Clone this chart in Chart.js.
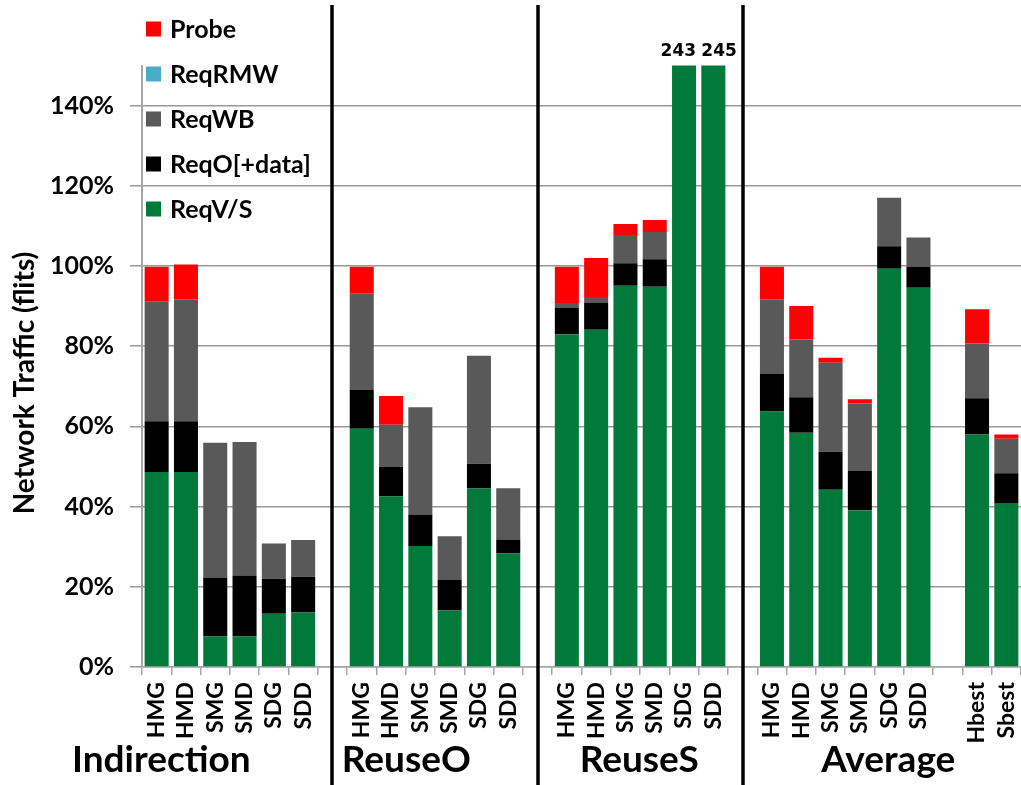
<!DOCTYPE html>
<html><head><meta charset="utf-8">
<script src="https://cdn.jsdelivr.net/npm/chart.js@4.4.1/dist/chart.umd.min.js"></script>
<style>html,body{margin:0;padding:0;background:#fff;}#wrap{width:1021px;height:785px;position:relative;}</style>
</head><body><div id="wrap"><canvas id="c" width="1021" height="785"></canvas></div>
<script>
const categories = ['HMG','HMD','SMG','SMD','SDG','SDD','',
                    'HMG','HMD','SMG','SMD','SDG','SDD','',
                    'HMG','HMD','SMG','SMD','SDG','SDD','',
                    'HMG','HMD','SMG','SMD','SDG','SDD','',
                    'Hbest','Sbest'];
const groupLabels = ['Indirection','ReuseO','ReuseS','Average'];
const seriesNames = ['ReqV/S','ReqO[+data]','ReqWB','ReqRMW','Probe'];
const reqVS  = [48.6,48.6,7.6,7.6,13.3,13.6,null, 59.4,42.6,30.2,14.1,44.5,28.3,null, 83.0,84.1,95.1,94.8,243,245,null, 63.7,58.4,44.2,39.1,99.3,94.6,null, 58.0,40.9];
const reqO   = [12.7,12.7,14.7,15.2,8.7,8.9,null, 9.7,7.3,7.8,7.6,6.2,3.5,null, 6.5,6.7,5.6,6.9,0,0,null, 9.5,8.9,9.5,9.8,5.6,5.2,null, 9.0,7.4];
const reqWB  = [29.8,30.4,33.6,33.3,8.8,9.2,null, 24.0,10.5,26.8,10.9,26.9,12.8,null, 1.3,1.5,7.0,6.8,0,0,null, 18.5,14.4,22.2,16.8,12.1,7.3,null, 13.7,8.6];
const reqRMW = [0,0,0,0,0,0,null, 0,0,0,0,0,0,null, 0,0,0,0,0,0,null, 0,0,0,0,0,0,null, 0,0];
const probe  = [8.7,8.7,0,0,0,0,null, 6.7,7.2,0,0,0,0,null, 9.0,9.7,2.8,3.0,0,0,null, 8.1,8.3,1.2,1.1,0,0,null, 8.5,1.1];
const yTicks = [0,20,40,60,80,100,120,140];
const yMax = 150;
const yTitle = 'Network Traffic (flits)';
const separatorSlots = [6,13,20];
const groupCenters = [0.16, 8.52, 16.47, 24.97];
const colors = ['#00793A','#000000','#595959','#4BACC6','#FF0000'];

const seriesData = [reqVS, reqO, reqWB, reqRMW, probe];

function totalAt(i) {
  let tot = 0;
  seriesData.forEach(s => { tot += (s[i] || 0); });
  return tot;
}

const overlay = {
  id: 'overlay',
  afterDraw(chart) {
    const ctx = chart.ctx, xs = chart.scales.x, area = chart.chartArea;
    ctx.save();
    // group separators
    ctx.strokeStyle = '#000'; ctx.lineWidth = 3.5;
    separatorSlots.forEach(i => {
      const px = Math.round(xs.getPixelForValue(i));
      ctx.beginPath(); ctx.moveTo(px, 5); ctx.lineTo(px, chart.height); ctx.stroke();
    });
    // labels for bars exceeding axis
    ctx.fillStyle = '#000';
    ctx.font = 'bold 17px "DejaVu Sans"';
    ctx.textBaseline = 'alphabetic';
    const meta = chart.getDatasetMeta(0);
    categories.forEach((c, i) => {
      const tot = totalAt(i);
      if (tot <= yMax) return;
      const bar = meta.data[i];
      const half = bar.width / 2;
      let x = bar.x;
      if (i + 1 < categories.length && totalAt(i + 1) > yMax) { ctx.textAlign = 'right'; x = bar.x + half; }
      else if (i > 0 && totalAt(i - 1) > yMax) { ctx.textAlign = 'left'; x = bar.x - half; }
      else ctx.textAlign = 'center';
      ctx.fillText(String(Math.round(tot)), x, area.top - 10);
    });
    // group labels
    ctx.textAlign = 'center';
    ctx.font = 'bold 37px Lato';
    groupLabels.forEach((t, i) => ctx.fillText(t, xs.getPixelForValue(groupCenters[i]), 772));
    // legend (reversed order)
    ctx.textAlign = 'left'; ctx.textBaseline = 'middle';
    ctx.font = 'bold 25px Lato';
    const ds = chart.data.datasets.slice().reverse();
    ds.forEach((d, k) => {
      const cy = 29 + k * 45;
      ctx.fillStyle = d.backgroundColor;
      ctx.fillRect(146, cy - 7.5, 15, 15);
      ctx.fillStyle = '#000';
      ctx.fillText(d.label, 170, cy + 1);
    });
    // y title
    ctx.translate(25, 383); ctx.rotate(-Math.PI / 2);
    ctx.textAlign = 'center'; ctx.textBaseline = 'middle';
    ctx.font = 'bold 28px Lato';
    ctx.fillText(yTitle, 0, 0);
    ctx.restore();
  }
};

new Chart(document.getElementById('c'), {
  type: 'bar',
  data: {
    labels: categories,
    datasets: seriesNames.map((n, i) => ({
      label: n, data: seriesData[i], backgroundColor: colors[i],
      borderWidth: 0, barPercentage: 0.82, categoryPercentage: 1.0, clip: 0
    }))
  },
  options: {
    responsive: false, animation: false,
    layout: { padding: { top: 65.5, right: 0, bottom: 0, left: 0 } },
    plugins: { legend: { display: false }, tooltip: { enabled: false } },
    scales: {
      x: {
        stacked: true, offset: true,
        grid: { display: true, drawOnChartArea: false, offset: true, color: '#a6a6a6', lineWidth: 1.5, tickLength: 8 },
        border: { display: true, color: '#a6a6a6', width: 1.5 },
        ticks: { autoSkip: false, maxRotation: 90, minRotation: 90, padding: 7, color: '#000',
                 font: { family: 'Lato', weight: 'bold', size: 23 } },
        afterFit: s => { s.height = 118; s.paddingLeft = 0; s.paddingRight = 0; }
      },
      y: {
        stacked: true, min: 0, max: yMax,
        afterBuildTicks: s => { s.ticks = yTicks.map(v => ({ value: v })); },
        grid: { color: '#999999', lineWidth: 1.5, tickLength: 12 },
        border: { color: '#a6a6a6', width: 2 },
        ticks: { padding: 16, color: '#000', font: { family: 'Lato', weight: 'bold', size: 25 },
                 callback: v => v + '%' },
        afterFit: s => { s.width = 142; s.paddingTop = 0; s.paddingBottom = 0; }
      }
    }
  },
  plugins: [overlay]
});
</script></body></html>
